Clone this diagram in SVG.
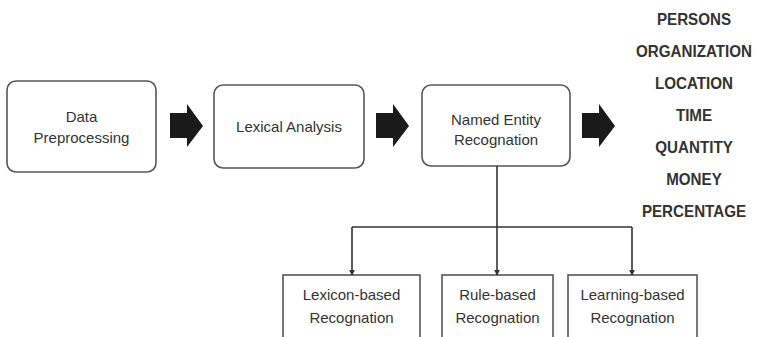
<svg xmlns="http://www.w3.org/2000/svg" width="757" height="337" viewBox="0 0 757 337">
  <style>
    .box { fill: #ffffff; stroke: #555555; stroke-width: 1.6; }
    .lbl { font-family: "Liberation Sans", Arial, sans-serif; font-size: 15px; fill: #333333; text-anchor: middle; }
    .ent { font-family: "Liberation Sans", Arial, sans-serif; font-size: 16.5px; font-weight: bold; fill: #333333; text-anchor: middle; }
    .wire { fill: none; stroke: #333333; stroke-width: 1.6; }
    .block { fill: #1a1a1a; }
  </style>
  <defs>
    <marker id="tip" viewBox="0 0 8 8" refX="7" refY="4" markerWidth="6" markerHeight="6" markerUnits="userSpaceOnUse" orient="auto">
      <path d="M0,0 L8,4 L0,8 Z" fill="#333333"/>
    </marker>
    <path id="bigArrow" d="M0,9 H17 V0 L33,22 L17,43 V34 H0 Z"/>
  </defs>

  <rect width="757" height="337" fill="#ffffff"/>

  <!-- pipeline stages -->
  <g id="data-preprocessing">
    <rect class="box" x="7" y="81" width="149" height="91" rx="9"/>
    <text class="lbl" x="81.5" y="122">Data</text>
    <text class="lbl" x="81.5" y="143">Preprocessing</text>
  </g>
  <g id="lexical-analysis">
    <rect class="box" x="214" y="85" width="150" height="83" rx="9"/>
    <text class="lbl" x="289" y="132">Lexical Analysis</text>
  </g>
  <g id="ner">
    <rect class="box" x="422" y="85" width="148" height="81" rx="9"/>
    <text class="lbl" x="496" y="125">Named Entity</text>
    <text class="lbl" x="496" y="145">Recognation</text>
  </g>

  <!-- recognition approaches -->
  <g id="lexicon-based">
    <rect class="box" x="283" y="275" width="137" height="70"/>
    <text class="lbl" x="351.5" y="300">Lexicon-based</text>
    <text class="lbl" x="351.5" y="323">Recognation</text>
  </g>
  <g id="rule-based">
    <rect class="box" x="442" y="275" width="111" height="70"/>
    <text class="lbl" x="497.5" y="300">Rule-based</text>
    <text class="lbl" x="497.5" y="323">Recognation</text>
  </g>
  <g id="learning-based">
    <rect class="box" x="568" y="275" width="129" height="70"/>
    <text class="lbl" x="632.5" y="300">Learning-based</text>
    <text class="lbl" x="632.5" y="323">Recognation</text>
  </g>

  <!-- entity types, set slightly condensed -->
  <g id="entity-types" transform="translate(694,0) scale(0.92,1)">
    <text class="ent" x="0" y="25">PERSONS</text>
    <text class="ent" x="0" y="57">ORGANIZATION</text>
    <text class="ent" x="0" y="89">LOCATION</text>
    <text class="ent" x="0" y="121">TIME</text>
    <text class="ent" x="0" y="153">QUANTITY</text>
    <text class="ent" x="0" y="185">MONEY</text>
    <text class="ent" x="0" y="217">PERCENTAGE</text>
  </g>

  <!-- connectors -->
  <g id="connectors">
    <use href="#bigArrow" class="block" x="170" y="104"/>
    <use href="#bigArrow" class="block" x="376" y="104"/>
    <use href="#bigArrow" class="block" x="582" y="104"/>
    <path class="wire" d="M497,166 V227"/>
    <path class="wire" d="M352,227 H632"/>
    <path class="wire" d="M352,227 V275" marker-end="url(#tip)"/>
    <path class="wire" d="M497,227 V275" marker-end="url(#tip)"/>
    <path class="wire" d="M632,227 V275" marker-end="url(#tip)"/>
  </g>
</svg>
